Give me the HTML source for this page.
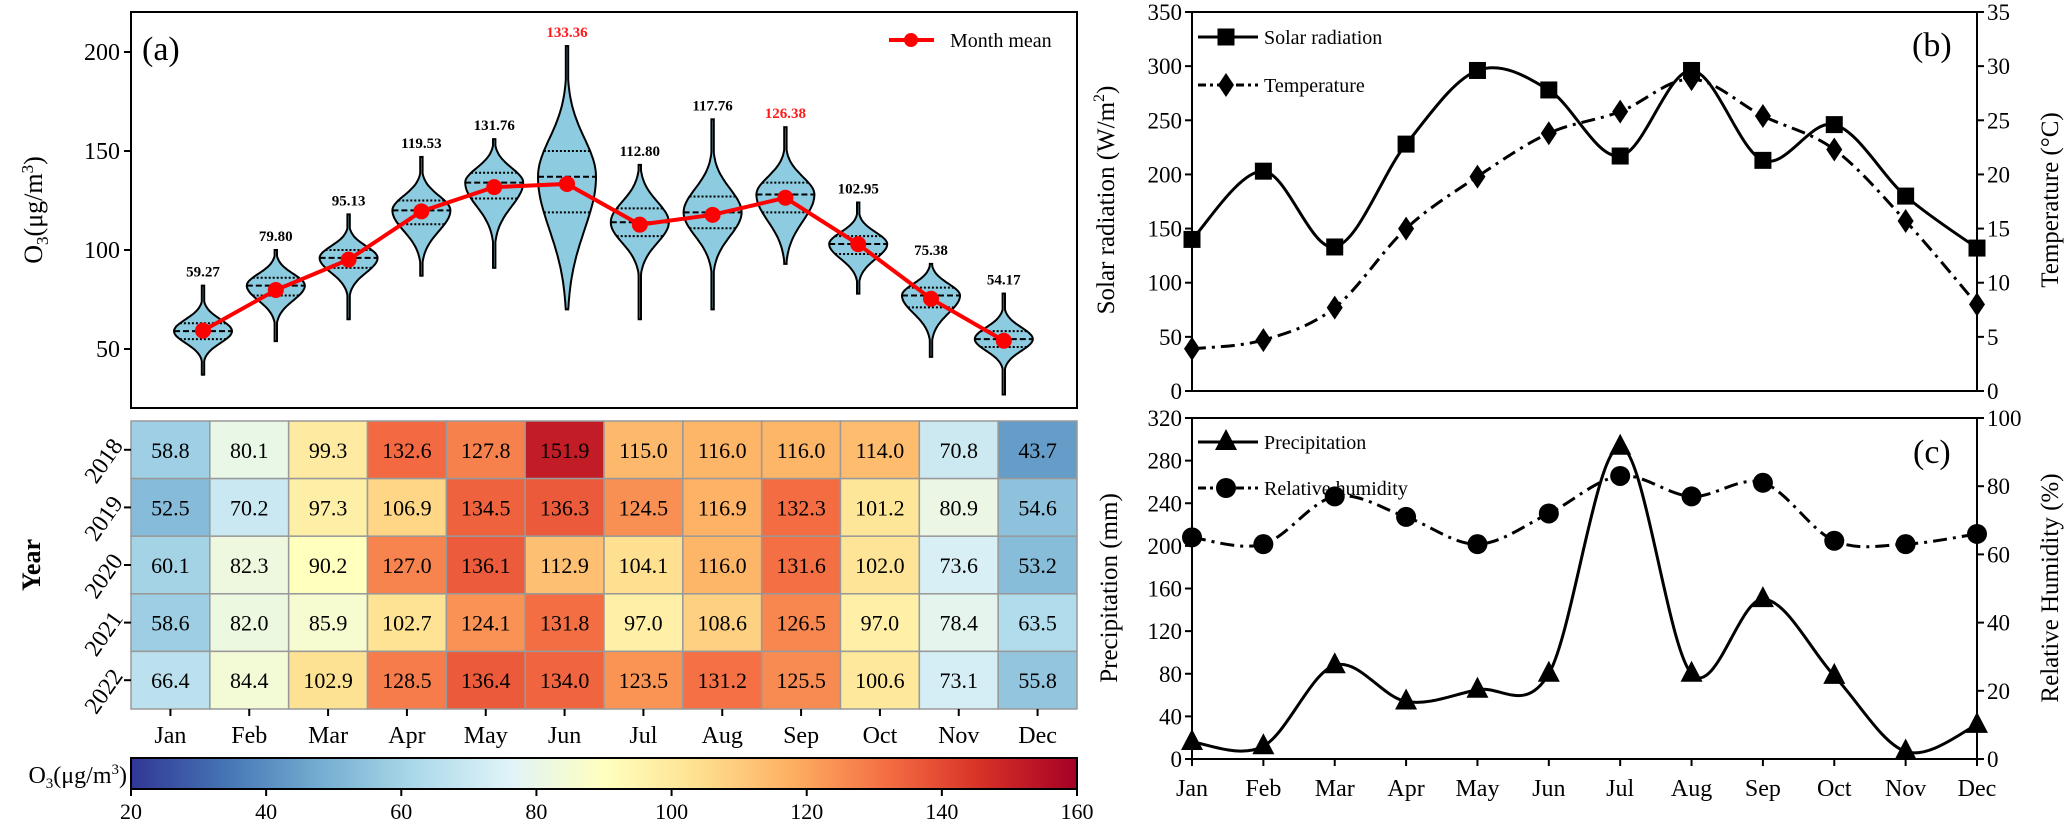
<!DOCTYPE html>
<html><head><meta charset="utf-8">
<style>
html,body{margin:0;padding:0;background:#fff;}
svg{display:block;font-family:"Liberation Serif",serif;}
svg text{font-family:"Liberation Serif",serif;}
</style></head>
<body>
<svg id="fig" width="2067" height="823" viewBox="0 0 2067 823" xmlns="http://www.w3.org/2000/svg" font-family="Liberation Serif, serif"></svg>
<script>
const months = ['Jan','Feb','Mar','Apr','May','Jun','Jul','Aug','Sep','Oct','Nov','Dec'];
const monthMeans = [59.27,79.80,95.13,119.53,131.76,133.36,112.80,117.76,126.38,102.95,75.38,54.17];
const meanLabels = ['59.27','79.80','95.13','119.53','131.76','133.36','112.80','117.76','126.38','102.95','75.38','54.17'];
const violinMin = [37,54,65,87,91,70,65,70,93,78,46,27];
const violinMax = [82,100,118,147,156,203,143,166,162,124,93,78];
const violinQ1 = [55,77,91,113,126,119,107,111,119,98,71,51];
const violinMed = [59,82,96,120,134,137,114,119,128,103,77,55];
const violinQ3 = [63,86,100,125,139,150,121,127,134,107,81,59];
const years = ['2018','2019','2020','2021','2022'];
const heat2018 = [58.8,80.1,99.3,132.6,127.8,151.9,115.0,116.0,116.0,114.0,70.8,43.7];
const heat2019 = [52.5,70.2,97.3,106.9,134.5,136.3,124.5,116.9,132.3,101.2,80.9,54.6];
const heat2020 = [60.1,82.3,90.2,127.0,136.1,112.9,104.1,116.0,131.6,102.0,73.6,53.2];
const heat2021 = [58.6,82.0,85.9,102.7,124.1,131.8,97.0,108.6,126.5,97.0,78.4,63.5];
const heat2022 = [66.4,84.4,102.9,128.5,136.4,134.0,123.5,131.2,125.5,100.6,73.1,55.8];
const solar = [140,203,133,228,296,278,217,296,213,246,180,132];
const temperature = [3.9,4.7,7.7,15.0,19.8,23.8,25.8,28.8,25.4,22.3,15.7,8.0];
const precipitation = [16,12,88,54,65,80,293,80,150,78,7,32];
const humidity = [65,63,77,71,63,72,83,77,81,64,63,66];
const o3Ticks = [50,100,150,200];
const cbTicks = [20,40,60,80,100,120,140,160];
const solarTicks = [0,50,100,150,200,250,300,350];
const tempTicks = [0,5,10,15,20,25,30,35];
const precTicks = [0,40,80,120,160,200,240,280,320];
const rhTicks = [0,20,40,60,80,100];

const NS='http://www.w3.org/2000/svg';
const svg=document.getElementById('fig');
const FF='"Liberation Serif", serif';
function mk(tag,attrs,parent){const e=document.createElementNS(NS,tag);for(const k in attrs)e.setAttribute(k,attrs[k]);(parent||svg).appendChild(e);return e;}
function txt(s,attrs,parent){const e=mk('text',attrs,parent);e.setAttribute('font-family',FF);e.textContent=s;return e;}
function smooth(pts){let d='M'+pts[0][0]+','+pts[0][1];for(let i=0;i<pts.length-1;i++){const p0=pts[i-1]||pts[i],p1=pts[i],p2=pts[i+1],p3=pts[i+2]||p2;const c1=[p1[0]+(p2[0]-p0[0])/6,p1[1]+(p2[1]-p0[1])/6],c2=[p2[0]-(p3[0]-p1[0])/6,p2[1]-(p3[1]-p1[1])/6];d+=' C'+c1+' '+c2+' '+p2;}return d;}
const stops=[[0,'#313695'],[0.1,'#4575b4'],[0.2,'#74add1'],[0.3,'#abd9e9'],[0.4,'#e0f3f8'],[0.5,'#ffffbf'],[0.6,'#fee090'],[0.7,'#fdae61'],[0.8,'#f46d43'],[0.9,'#d73027'],[1,'#a50026']];
function hex(h){return [1,3,5].map(i=>parseInt(h.substr(i,2),16));}
function cmap(v){let t=Math.max(0,Math.min(1,(v-20)/140));for(let i=0;i<stops.length-1;i++){if(t<=stops[i+1][0]){const f=(t-stops[i][0])/(stops[i+1][0]-stops[i][0]);const a=hex(stops[i][1]),b=hex(stops[i+1][1]);return 'rgb('+a.map((x,j)=>Math.round(x+(b[j]-x)*f)).join(',')+')';}}return stops[10][1];}

/* ---------- Panel (a) violins ---------- */
const A={l:131,r:1077,t:12,b:408};
const yA=v=>349-(v-50)*99/50;
const xV=i=>203+i*72.8;
const gA=mk('g',{});


for(let i=0;i<12;i++){
  const med=violinMed[i],sU=(violinQ3[i]-med)/0.674,sD=(med-violinQ1[i])/0.674,hw=29;
  const w=v=>{const s=v>med?sU:sD;return Math.max(1.2,hw*Math.exp(-0.5*((v-med)/s)**2));};
  const L=[],R=[];const n=80;
  for(let k=0;k<=n;k++){const v=violinMin[i]+(violinMax[i]-violinMin[i])*k/n;R.push([xV(i)+w(v),yA(v)]);L.push([xV(i)-w(v),yA(v)]);}
  let d='M'+xV(i)+','+yA(violinMin[i]);R.forEach(p=>d+=' L'+p[0].toFixed(1)+','+p[1].toFixed(1));d+=' L'+xV(i)+','+yA(violinMax[i]);L.reverse().forEach(p=>d+=' L'+p[0].toFixed(1)+','+p[1].toFixed(1));d+='Z';
  const vp=mk('path',{d:d,fill:'#8ccbe0',stroke:'#000','stroke-width':2},gA);
  
  
  [[violinQ1[i],'2,2'],[med,'6,3'],[violinQ3[i],'2,2']].forEach(q=>{const ww=w(q[0]);const ql=mk('line',{x1:xV(i)-ww,x2:xV(i)+ww,y1:yA(q[0]),y2:yA(q[0]),stroke:'#000','stroke-width':2,'stroke-dasharray':q[1]},gA);
    
    });
  const lb=txt(meanLabels[i],{x:xV(i),y:yA(violinMax[i])-9,'text-anchor':'middle','font-size':15,'font-weight':'bold',fill:(i==5||i==8)?'#ff1a1a':'#000'},gA);
  
  
}
let md='';monthMeans.forEach((v,i)=>md+=(i?' L':'M')+xV(i)+','+yA(v));
const ml=mk('path',{d:md,fill:'none',stroke:'#ff0000','stroke-width':4});


monthMeans.forEach((v,i)=>{const c=mk('circle',{cx:xV(i),cy:yA(v),r:8,fill:'#ff0000'});
  
  });
const boxA=mk('rect',{x:A.l,y:A.t,width:A.r-A.l,height:A.b-A.t,fill:'none',stroke:'#000','stroke-width':2});


o3Ticks.forEach(t=>{mk('line',{x1:A.l-7,x2:A.l,y1:yA(t),y2:yA(t),stroke:'#000','stroke-width':2});
  const tl=txt(t,{x:A.l-11,y:yA(t)+8,'text-anchor':'end','font-size':24});
  
  });
const ayt=txt('',{transform:'translate(42,210) rotate(-90)','text-anchor':'middle','font-size':26});
ayt.innerHTML='O<tspan font-size="17" dy="6">3</tspan><tspan dy="-6">(μg/m</tspan><tspan font-size="17" dy="-9">3</tspan><tspan dy="9">)</tspan>';


const pa=txt('(a)',{x:142,y:60,'font-size':34});


const lgA=mk('g',{});


mk('line',{x1:889,x2:934,y1:40,y2:40,stroke:'#ff0000','stroke-width':4},lgA);
mk('circle',{cx:911,cy:40,r:7,fill:'#ff0000'},lgA);
txt('Month mean',{x:950,y:47,'font-size':20},lgA);

/* ---------- Heatmap ---------- */
const H={l:131,t:421,cw:(1077-131)/12,rh:(709-421)/5};
const heatRows=[heat2018,heat2019,heat2020,heat2021,heat2022];
heatRows.forEach((row,r)=>row.forEach((v,c)=>{
  const cell=mk('rect',{x:H.l+c*H.cw,y:H.t+r*H.rh,width:H.cw,height:H.rh,fill:cmap(v),stroke:'#999','stroke-width':1.5});
  
  
  const ct=txt(v.toFixed(1),{x:H.l+(c+.5)*H.cw,y:H.t+(r+.5)*H.rh+8,'text-anchor':'middle','font-size':22});
  
  
}));
years.forEach((y,r)=>{const cy=H.t+(r+.5)*H.rh;mk('line',{x1:H.l-7,x2:H.l,y1:cy,y2:cy,stroke:'#000','stroke-width':2});
  const yl=txt(y,{transform:'translate(118,'+(cy+4)+') rotate(-55)','text-anchor':'middle','font-size':24,x:-14});
  
  });
months.forEach((m,c)=>{const cx=H.l+(c+.5)*H.cw;mk('line',{x1:cx,x2:cx,y1:709,y2:716,stroke:'#000','stroke-width':2});
  const xl=txt(m,{x:cx,y:743,'text-anchor':'middle','font-size':24});
  
  });
const yr=txt('Year',{transform:'translate(40,565) rotate(-90)','text-anchor':'middle','font-size':26,'font-weight':'bold'});


/* colorbar */
const defs=mk('defs',{});const lg=mk('linearGradient',{id:'cb',x1:0,x2:1,y1:0,y2:0},defs);
stops.forEach(s=>mk('stop',{offset:s[0],'stop-color':s[1]},lg));
const cbx=v=>131+(v-20)*(1077-131)/140;
const cb=mk('rect',{x:131,y:758,width:946,height:31,fill:'url(#cb)',stroke:'#000','stroke-width':2});


cbTicks.forEach(t=>{mk('line',{x1:cbx(t),x2:cbx(t),y1:789,y2:796,stroke:'#000','stroke-width':2});
  const l=txt(t,{x:cbx(t),y:819,'text-anchor':'middle','font-size':22});
  
  });
const cbt=txt('',{x:127,y:783,'text-anchor':'end','font-size':24});
cbt.innerHTML='O<tspan font-size="15" dy="5">3</tspan><tspan dy="-5">(μg/m</tspan><tspan font-size="15" dy="-9">3</tspan><tspan dy="9">)</tspan>';



/* ---------- Panels (b),(c) ---------- */
const BL=1192,BR=1977;
const xM=i=>BL+i*(BR-BL)/11;
const yS=v=>391-v*379/350, yT=v=>391-v*379/35;
const yP=v=>759-v*341/320, yH=v=>759-v*341/100;
function frame(top,bot,name){const r=mk('rect',{x:BL,y:top,width:BR-BL,height:bot-top,fill:'none',stroke:'#000','stroke-width':2});
  
  }
frame(12,391,'panel-b-frame');frame(418,759,'panel-c-frame');
function yTicks(ticks,f,left,name){ticks.forEach(t=>{const x=left?BL:BR;mk('line',{x1:x,x2:left?x-7:x+7,y1:f(t),y2:f(t),stroke:'#000','stroke-width':2});
  const l=txt(t,{x:left?x-10:x+10,y:f(t)+8,'text-anchor':left?'end':'start','font-size':23});
  
  });}
yTicks(solarTicks,yS,true,'b-left-tick-label');yTicks(tempTicks,yT,false,'b-right-tick-label');
yTicks(precTicks,yP,true,'c-left-tick-label');yTicks(rhTicks,yH,false,'c-right-tick-label');
months.forEach((m,i)=>{mk('line',{x1:xM(i),x2:xM(i),y1:759,y2:766,stroke:'#000','stroke-width':2});
  const l=txt(m,{x:xM(i),y:796,'text-anchor':'middle','font-size':24});
  
  });
function series(vals,f,dash,name){const pts=vals.map((v,i)=>[xM(i),f(v)]);const p=mk('path',{d:smooth(pts),fill:'none',stroke:'#000','stroke-width':3,'stroke-dasharray':dash||'none'});
  
  return pts;}
function marker(kind,x,y,g){if(kind=='sq')return mk('rect',{x:x-8.5,y:y-8.5,width:17,height:17,fill:'#000'},g);
  if(kind=='di')return mk('polygon',{points:[x,y-12,x+8,y,x,y+12,x-8,y].join(' '),fill:'#000'},g);
  if(kind=='tr')return mk('polygon',{points:[x,y-13,x+11,y+8,x-11,y+8].join(' '),fill:'#000'},g);
  return mk('circle',{cx:x,cy:y,r:10,fill:'#000'},g);}
const DD='14,6,3,6';
series(solar,yS,null,'solar-line').forEach(p=>{const m=marker('sq',p[0],p[1]);});
series(temperature,yT,DD,'temperature-line').forEach(p=>{const m=marker('di',p[0],p[1]);});
series(precipitation,yP,null,'precipitation-line').forEach(p=>{const m=marker('tr',p[0],p[1]);});
series(humidity,yH,DD,'humidity-line').forEach(p=>{const m=marker('ci',p[0],p[1]);});
function legend(y,kind,dash,label,name){const g=mk('g',{});
  
  
  mk('line',{x1:1198,x2:1258,y1:y,y2:y,stroke:'#000','stroke-width':3,'stroke-dasharray':dash||'none'},g);marker(kind,1226,y,g);txt(label,{x:1264,y:y+7,'font-size':20},g);}
legend(37,'sq',null,'Solar radiation','legend-solar');
legend(85,'di','8,4,3,4','Temperature','legend-temperature');
legend(442,'tr',null,'Precipitation','legend-precipitation');
legend(488,'ci','8,4,3,4','Relative humidity','legend-humidity');
const pb=txt('(b)',{x:1912,y:56,'font-size':34});
const pc=txt('(c)',{x:1913,y:463,'font-size':34});
const t1=txt('',{transform:'translate(1114,200) rotate(-90)','text-anchor':'middle','font-size':25});
t1.innerHTML='Solar radiation (W/m<tspan font-size="16" dy="-10">2</tspan><tspan dy="10">)</tspan>';

const t2=txt('Temperature (°C)',{transform:'translate(2058,200) rotate(-90)','text-anchor':'middle','font-size':25});

const t3=txt('Precipitation (mm)',{transform:'translate(1117,588) rotate(-90)','text-anchor':'middle','font-size':25});

const t4=txt('Relative Humidity (%)',{transform:'translate(2058,588) rotate(-90)','text-anchor':'middle','font-size':25});

</script>
</body></html>
